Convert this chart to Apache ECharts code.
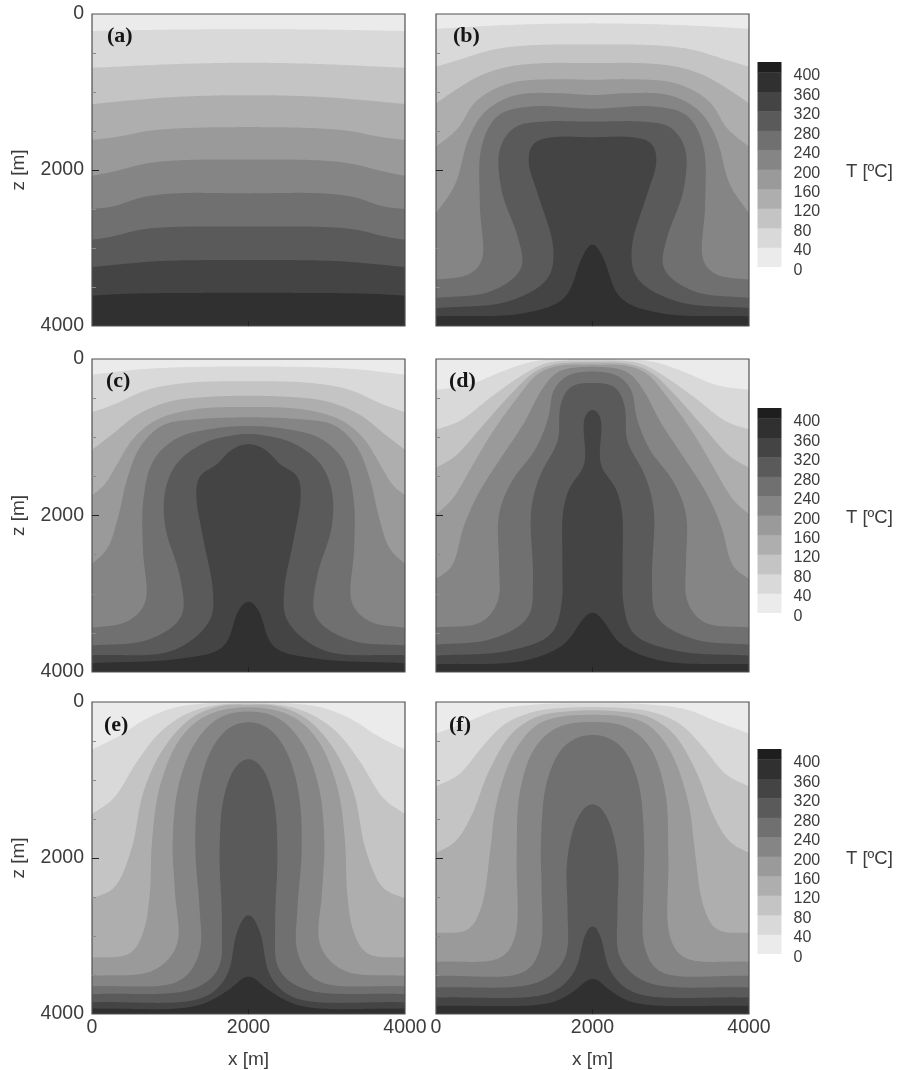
<!DOCTYPE html>
<html><head><meta charset="utf-8">
<style>html,body{margin:0;padding:0;background:#fff}#c{width:904px;height:1070px}#c canvas{filter:blur(0.5px)}</style>
<script src="https://cdn.jsdelivr.net/npm/echarts@6/dist/echarts.min.js"></script>
</head><body><div id="c"></div>
<script>
// Isotherms: left half of each curve [x m, z m], the fields being mirrored about x = 2000 m
const panelA = [
 [[0,218],[1000,200],[2000,196]],
 [[0,690],[1125,640],[2000,625]],
 [[0,1155],[570,1100],[1125,1060],[2000,1040]],
 [[0,1615],[360,1570],[700,1500],[1125,1465],[2000,1450]],
 [[0,2075],[275,2020],[700,1915],[1125,1875],[2000,1865]],
 [[0,2500],[275,2470],[615,2355],[1040,2300],[2000,2300]],
 [[0,2895],[275,2850],[615,2765],[1040,2730],[2000,2725]],
 [[0,3245],[400,3205],[915,3165],[2000,3155]],
 [[0,3610],[485,3585],[2000,3575]]
];
const panelB = [
 [[0,190],[925,140],[2000,120]],
 [[0,675],[285,590],[710,460],[1135,405],[2000,390]],
 [[0,1145],[285,950],[585,780],[925,675],[1350,630],[2000,630]],
 [[0,1700],[285,1465],[500,1125],[925,890],[1560,835],[2000,845]],
 [[0,2555],[245,2190],[415,1595],[625,1250],[1010,1040],[1560,1015],[2000,1040]],
 [[0,3405],[415,3345],[585,3175],[560,2445],[585,1680],[795,1295],[1220,1185],[2000,1215]],
 [[0,3640],[710,3555],[1095,3260],[1050,2875],[840,2275],[815,1720],[1010,1445],[1350,1380],[2000,1380]],
 [[0,3770],[925,3685],[1435,3385],[1500,3000],[1305,2320],[1180,1890],[1240,1655],[1475,1580],[2000,1580]],
 [[0,3875],[1135,3835],[1645,3640],[1860,3130],[2000,2925]]
];
const panelC = [
 [[0,200],[700,125],[2000,95]],
 [[0,680],[275,585],[700,395],[1210,305],[2000,285]],
 [[0,1160],[275,950],[570,715],[1000,540],[1550,480],[2000,470]],
 [[0,1740],[145,1630],[315,1355],[530,1010],[825,775],[1255,650],[1680,615],[2000,615]],
 [[0,2615],[190,2440],[335,2015],[445,1545],[615,1120],[910,840],[1340,770],[2000,745]],
 [[0,3435],[445,3360],[680,3125],[650,2440],[655,1800],[785,1290],[1085,1010],[1510,895],[2000,855]],
 [[0,3660],[700,3595],[1145,3295],[1125,2785],[935,2145],[935,1675],[1085,1330],[1425,1075],[1765,980],[2000,955]],
 [[0,3785],[1040,3725],[1510,3340],[1545,2955],[1425,2315],[1330,1715],[1380,1480],[1595,1355],[1745,1185],[1935,1085],[2000,1085]],
 [[0,3885],[1125,3830],[1680,3680],[1870,3210],[2000,3075]]
];
const panelD = [
 [[0,395],[415,335],[840,160],[1265,25],[1645,5],[2000,5]],
 [[0,900],[285,805],[710,480],[1135,185],[1390,55],[1690,20],[2000,20]],
 [[0,1390],[240,1250],[585,865],[965,440],[1265,160],[1520,65],[2000,45]],
 [[0,1985],[200,1805],[455,1380],[710,950],[1050,480],[1305,185],[1560,85],[2000,75]],
 [[0,2810],[200,2660],[350,2150],[540,1720],[840,1250],[1135,800],[1350,395],[1560,160],[2000,100]],
 [[0,3430],[585,3365],[795,3085],[805,2620],[805,1975],[975,1550],[1265,1165],[1440,740],[1500,395],[1690,205],[2000,160]],
 [[0,3650],[710,3580],[1180,3300],[1240,2830],[1215,1935],[1330,1485],[1560,1040],[1585,610],[1710,355],[2000,305]],
 [[0,3790],[925,3730],[1475,3515],[1605,3130],[1615,2620],[1625,1935],[1710,1635],[1895,1360],[1895,740],[2000,620]],
 [[0,3900],[1135,3855],[1645,3640],[1860,3345],[2000,3215]]
];
const panelE = [
 [[0,610],[360,430],[655,235],[1040,75],[1425,20],[2000,10]],
 [[0,1435],[275,1240],[570,770],[870,385],[1210,150],[1550,45],[2000,20]],
 [[0,2515],[275,2395],[505,1885],[655,1155],[910,600],[1255,215],[1635,50],[2000,35]],
 [[0,3275],[485,3230],[655,2955],[740,2440],[765,1800],[870,1070],[1125,470],[1465,170],[2000,65]],
 [[0,3510],[785,3445],[1085,3125],[1060,2440],[1030,1800],[1105,1070],[1320,515],[1635,195],[2000,120]],
 [[0,3645],[1125,3575],[1375,3210],[1375,2655],[1320,1885],[1360,1155],[1530,600],[1765,320],[2000,255]],
 [[0,3745],[1295,3680],[1615,3425],[1660,2870],[1630,1925],[1680,1240],[1830,835],[2000,715]],
 [[0,3850],[1425,3790],[1725,3510],[1850,2955],[2000,2700]],
 [[0,3930],[1340,3895],[1765,3680],[2000,3500]]
];
const panelF = [
 [[0,405],[415,250],[795,95],[1305,30],[2000,15]],
 [[0,1080],[285,940],[585,580],[880,280],[1265,120],[1645,75],[2000,65]],
 [[0,1935],[240,1800],[455,1455],[670,900],[965,405],[1305,180],[1690,120],[2000,105]],
 [[0,2960],[415,2920],[585,2610],[690,1925],[775,1285],[1010,620],[1305,280],[1645,180],[2000,165]],
 [[0,3330],[840,3275],[1015,2995],[1030,2010],[1070,1155],[1265,580],[1560,320],[2000,255]],
 [[0,3510],[1135,3460],[1330,3165],[1350,2440],[1340,1800],[1415,1025],[1605,600],[1815,450],[2000,420]],
 [[0,3660],[1305,3595],[1645,3295],[1680,2655],[1670,2095],[1755,1625],[1880,1370],[2000,1290]],
 [[0,3790],[1475,3725],[1775,3445],[1900,2995],[2000,2840]],
 [[0,3895],[1475,3855],[1775,3700],[2000,3530]]
];
const panelNames = ['(a)','(b)','(c)','(d)','(e)','(f)'];
const panelCurves = [panelA,panelB,panelC,panelD,panelE,panelF];
const isoLevels = [40,80,120,160,200,240,280,320,360];
const barLevels = [0,40,80,120,160,200,240,280,320,360,400];
const barTop = 421;
const axisMax = 4000, axisStep = 2000;
const tickedDepth = [2000];
const barTitle = 'T [ºC]';

const bandColors = ['#ebebeb','#d9d9d9','#c4c4c4','#aeaeae','#9a9a9a','#858585','#707070','#5a5a5a','#444444','#303030','#1e1e1e'];
const TXT = '#3c3c3c', SANS = '"Liberation Sans", Arial, sans-serif';
const lefts = [92,436,92,436,92,436];
const tops = [14,14,359,359,702,702];
const heights = [312,312,313,313,312,312];
const labelPos = [[107,25],[453,25],[106,370],[449,370],[104,714],[449,714]];
const plain = v => String(v);

// centripetal Catmull-Rom through pixel points
function spline(P){
  const out=[P[0]]; const n=P.length;
  const get=i=> i<0 ? [2*P[0][0]-P[1][0],2*P[0][1]-P[1][1]] : i>=n ? [2*P[n-1][0]-P[n-2][0],2*P[n-1][1]-P[n-2][1]] : P[i];
  const knot=(a,b)=>Math.max(Math.sqrt(Math.hypot(b[0]-a[0],b[1]-a[1])),1e-3);
  for(let i=0;i<n-1;i++){
    const p0=get(i-1),p1=get(i),p2=get(i+1),p3=get(i+2);
    const t0=0,t1=t0+knot(p0,p1),t2=t1+knot(p1,p2),t3=t2+knot(p2,p3);
    for(let s=1;s<=14;s++){
      const t=t1+(t2-t1)*s/14;
      const L=(a,b,ta,tb)=>[a[0]+(b[0]-a[0])*(t-ta)/(tb-ta),a[1]+(b[1]-a[1])*(t-ta)/(tb-ta)];
      const A1=L(p0,p1,t0,t1),A2=L(p1,p2,t1,t2),A3=L(p2,p3,t2,t3);
      const B1=L(A1,A2,t0,t2),B2=L(A2,A3,t1,t3);
      out.push(L(B1,B2,t1,t2));
    }
  }
  return out;
}
// even out hand-read wiggles: arc-length resample, then a Gaussian pass
function soften(P,step,sigma){
  const R=[P[0]]; let acc=0;
  for(let i=1;i<P.length;i++){
    let a=P[i-1],b=P[i],d=Math.hypot(b[0]-a[0],b[1]-a[1]);
    let pos=step-acc;
    while(pos<=d){ R.push([a[0]+(b[0]-a[0])*pos/d,a[1]+(b[1]-a[1])*pos/d]); pos+=step; }
    acc=(acc+d)%step;
  }
  R.push(P[P.length-1]);
  const n=R.length, r=Math.ceil(2.5*sigma/step), w=[];
  for(let k=-r;k<=r;k++) w.push(Math.exp(-k*k*step*step/(2*sigma*sigma)));
  const at=i=> i<0 ? [2*R[0][0]-R[-i][0],2*R[0][1]-R[-i][1]] : i>=n ? [2*R[n-1][0]-R[2*n-2-i][0],2*R[n-1][1]-R[2*n-2-i][1]] : R[i];
  return R.map((_,i)=>{
    let x=0,y=0,W=0;
    for(let k=-r;k<=r;k++){ const j=i+k; if(j<-(n-1)||j>2*n-2) continue; const q=at(j); x+=q[0]*w[k+r]; y+=q[1]*w[k+r]; W+=w[k+r]; }
    return [x/W,y/W];
  });
}
const grid=[],xAxis=[],yAxis=[],series=[],title=[];
panelNames.forEach((name,p)=>{
  const isLeft=p%2===0, isBottom=p>=4;
  grid.push({left:lefts[p],top:tops[p],width:313,height:heights[p]});
  xAxis.push({type:'value',gridIndex:p,position:'bottom',min:0,max:axisMax,interval:axisStep,z:10,
    name:isBottom?'x [m]':'',nameLocation:'middle',nameGap:36,nameTextStyle:{fontFamily:SANS,fontSize:19,color:TXT},
    axisLine:{show:false,onZero:false},splitLine:{show:false},
    axisTick:{show:true,inside:true,length:5,customValues:tickedDepth,lineStyle:{color:'#222'}},
    axisLabel:{show:isBottom,formatter:plain,fontFamily:SANS,fontSize:19.5,color:TXT,margin:4}});
  yAxis.push({type:'value',gridIndex:p,position:'left',inverse:true,min:0,max:axisMax,interval:axisStep,z:10,
    name:isLeft?'z [m]':'',nameLocation:'middle',nameGap:64,nameTextStyle:{fontFamily:SANS,fontSize:19,color:TXT},
    axisLine:{show:false,onZero:false},splitLine:{show:false},
    axisTick:{show:true,inside:true,length:7,customValues:tickedDepth,lineStyle:{color:'#222'}},
    minorTick:{show:true,splitNumber:4,length:4,lineStyle:{color:'#8a8a8a'}},
    minorSplitLine:{show:false},
    axisLabel:{show:isLeft,formatter:plain,fontFamily:SANS,fontSize:19.5,color:TXT,margin:8}});
  const curves=panelCurves[p];
  series.push({type:'custom',xAxisIndex:p,yAxisIndex:p,z:2,clip:true,silent:true,
    data:[0].concat(isoLevels).map(T=>[2000,2000,T]),
    renderItem:(params,api)=>{
      const i=params.dataIndex;
      const tl=api.coord([0,0]),br=api.coord([axisMax,axisMax]);
      const fill=bandColors[i];
      if(i===0) return {type:'rect',shape:{x:tl[0],y:tl[1],width:br[0]-tl[0],height:br[1]-tl[1]},style:{fill}};
      const half=curves[i-1];
      const full=half.concat(half.slice(0,-1).reverse().map(q=>[2*2000-q[0],q[1]]));
      const pts=soften(spline(full.map(q=>api.coord(q))),1.5,5.5).map(q=>[Math.min(br[0],Math.max(tl[0],q[0])),Math.min(br[1],Math.max(tl[1],q[1]))]);
      pts.push([br[0],br[1]],[tl[0],br[1]]);
      return {type:'polygon',shape:{points:pts},style:{fill}};
    }});
  series.push({type:'custom',xAxisIndex:p,yAxisIndex:p,z:3,clip:false,silent:true,data:[[0,0]],
    renderItem:(params,api)=>{
      const tl=api.coord([0,0]),br=api.coord([axisMax,axisMax]);
      return {type:'rect',shape:{x:tl[0],y:tl[1],width:br[0]-tl[0],height:br[1]-tl[1]},style:{fill:'none',stroke:'#505050',lineWidth:1.2}};
    }});
  title.push({text:name,left:labelPos[p][0],top:labelPos[p][1],padding:0,
    textStyle:{fontFamily:'"Liberation Serif", serif',fontWeight:'bold',fontSize:22,color:'#151515'}});
});
// colour bars
[62,408,749].forEach((t,k)=>{
  const g=6+k;
  grid.push({left:757.5,top:t,width:24,height:205});
  xAxis.push({type:'value',gridIndex:g,min:0,max:1,show:false});
  yAxis.push({type:'value',gridIndex:g,position:'right',min:0,max:barTop,interval:40,
    axisLine:{show:false,onZero:false},axisTick:{show:false},splitLine:{show:false},
    axisLabel:{showMaxLabel:false,margin:12,align:'left',
      formatter:v=>'{a|'+v+'}',
      rich:{a:{fontFamily:SANS,fontSize:16,color:TXT,padding:[7,0,0,0]}}}});
  title.push({text:barTitle,left:846,top:t+100,padding:0,textStyle:{fontFamily:SANS,fontWeight:'normal',fontSize:18.5,color:TXT}});
  series.push({type:'custom',xAxisIndex:g,yAxisIndex:g,silent:true,clip:true,
    data:barLevels.map((v,i)=>[0,v,i<barLevels.length-1?barLevels[i+1]:barTop]),
    renderItem:(params,api)=>{
      const a=api.coord([0,api.value(1)]),b=api.coord([1,api.value(2)]);
      return {type:'rect',shape:{x:a[0],y:b[1],width:b[0]-a[0],height:a[1]-b[1]+0.3},style:{fill:bandColors[params.dataIndex]}};
    }});
});
const chart=echarts.init(document.getElementById('c'),null,{renderer:'canvas'});
chart.setOption({animation:false,backgroundColor:'#fff',grid,xAxis,yAxis,series,title,tooltip:{show:false}});
</script></body></html>
